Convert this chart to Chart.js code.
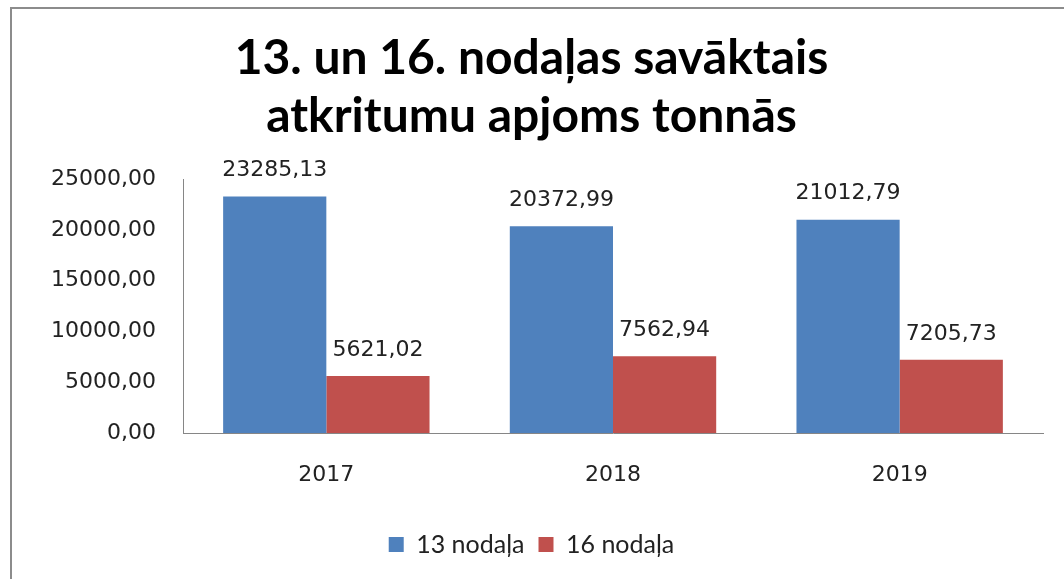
<!DOCTYPE html>
<html>
<head>
<meta charset="utf-8">
<script src="https://cdn.jsdelivr.net/npm/chart.js@4"></script>
<style>
  body { margin: 0; background: #fff; }
</style>
</head>
<body>
<canvas id="chart" width="1064" height="579"></canvas>
<script>
const years = ["2017", "2018", "2019"];
const nodala13 = [23285.13, 20372.99, 21012.79];
const nodala16 = [5621.02, 7562.94, 7205.73];
const yTicks = [0, 5000, 10000, 15000, 20000, 25000];

function fmt(v) {
  return v.toFixed(2).replace(".", ",");
}

// gray frame like the exported chart object
const frame = {
  id: "frame",
  beforeDraw(chart) {
    const ctx = chart.ctx;
    ctx.save();
    ctx.strokeStyle = "#8c8c8c";
    ctx.lineWidth = 2;
    ctx.strokeRect(11, 8, 1100, 620);
    ctx.restore();
  }
};

// value labels above bars
const valueLabels = {
  id: "valueLabels",
  afterDatasetsDraw(chart) {
    const ctx = chart.ctx;
    ctx.save();
    ctx.font = "22px 'DejaVu Sans'";
    ctx.fillStyle = "#222";
    ctx.textAlign = "center";
    ctx.textBaseline = "bottom";
    chart.data.datasets.forEach((ds, i) => {
      chart.getDatasetMeta(i).data.forEach((bar, j) => {
        ctx.fillText(fmt(ds.data[j]), bar.x, bar.y - 15);
      });
    });
    ctx.restore();
  }
};

new Chart(document.getElementById("chart"), {
  type: "bar",
  data: {
    labels: years,
    datasets: [
      { label: "13 nodaļa", data: nodala13, backgroundColor: "#4f81bd" },
      { label: "16 nodaļa", data: nodala16, backgroundColor: "#c0504d" }
    ]
  },
  options: {
    responsive: false,
    animation: false,
    devicePixelRatio: 1,
    layout: { padding: { left: 20, right: 21, top: 0, bottom: 12 } },
    datasets: { bar: { categoryPercentage: 0.72, barPercentage: 1 } },
    scales: {
      x: {
        grid: { display: false, drawTicks: false },
        border: { color: "#868686" },
        ticks: { font: { family: "DejaVu Sans", size: 22 }, color: "#222", padding: 29 },
        afterFit(s) { s.height = 85; }
      },
      y: {
        min: 0,
        max: 25000,
        afterBuildTicks(s) { s.ticks = yTicks.map(v => ({ value: v })); },
        grid: { display: false, drawTicks: false },
        border: { color: "#868686" },
        ticks: {
          font: { family: "DejaVu Sans", size: 22 },
          color: "#222",
          padding: 27,
          callback: v => fmt(v)
        },
        afterFit(s) { s.width = 163; }
      }
    },
    plugins: {
      title: {
        display: true,
        text: ["13. un 16. nodaļas savāktais", "atkritumu apjoms tonnās"],
        font: { family: "Lato", size: 48, weight: "bold" },
        color: "#000",
        lineHeight: 1.12,
        padding: { top: 30, bottom: 34 }
      },
      legend: {
        position: "bottom",
        labels: {
          font: { family: "Lato", size: 25 },
          color: "#222",
          boxWidth: 15,
          boxHeight: 15,
          padding: 14
        }
      },
      tooltip: { enabled: false }
    }
  },
  plugins: [frame, valueLabels]
});
</script>
</body>
</html>
